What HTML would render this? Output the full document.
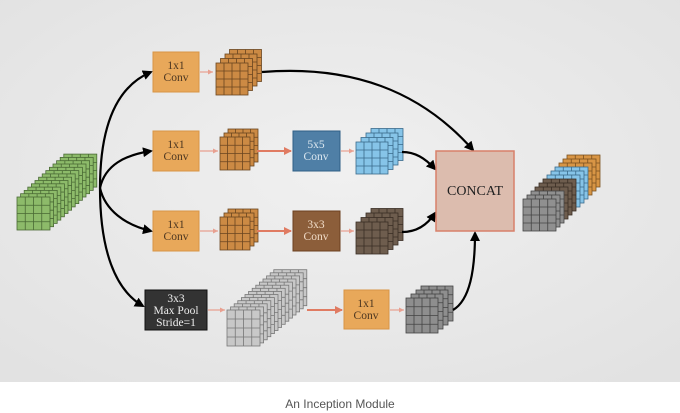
<!DOCTYPE html>
<html><head><meta charset="utf-8"><style>
html,body{margin:0;padding:0;width:680px;height:413px;overflow:hidden;background:#fff}
svg{display:block}
</style></head><body>
<svg id="s" width="680" height="413" xmlns="http://www.w3.org/2000/svg" font-family="Liberation Serif, serif">
<defs>
<radialGradient id="bg" cx="50%" cy="45%" r="70%"><stop offset="0" stop-color="#f0f0f0"/><stop offset="1" stop-color="#e2e2e2"/></radialGradient>
<marker id="ab" markerWidth="10" markerHeight="10" refX="8" refY="5" orient="auto" markerUnits="userSpaceOnUse"><path d="M0,0 L10,5 L0,10 Z" fill="#000"/></marker>
<marker id="ar" markerWidth="8" markerHeight="8" refX="7" refY="4" orient="auto" markerUnits="userSpaceOnUse"><path d="M0,0 L8,4 L0,8 Z" fill="#e07b62"/></marker>
<marker id="ar2" markerWidth="5" markerHeight="5" refX="5" refY="2.5" orient="auto" markerUnits="userSpaceOnUse"><path d="M0,0 L5,2.5 L0,5 Z" fill="#e8a090"/></marker>
</defs>
<rect x="0" y="0" width="680" height="382" fill="url(#bg)"/>
<g id="stacks"></g>
<g fill="none" stroke="#000" stroke-width="2.2">
<path d="M100,188 C100,120 120,85 151,72" marker-end="url(#ab)"/>
<path d="M100,188 C105,165 125,155 151,151" marker-end="url(#ab)"/>
<path d="M100,188 C105,210 125,225 151,231" marker-end="url(#ab)"/>
<path d="M100,188 C100,250 115,290 143,306" marker-end="url(#ab)"/>
<path d="M262,72 C350,65 420,90 473,150" marker-end="url(#ab)"/>
<path d="M402,152 C415,152 425,158 435,169" marker-end="url(#ab)"/>
<path d="M402,232 C418,232 428,224 435,213" marker-end="url(#ab)"/>
<path d="M453,310 C470,300 475,270 475,233" marker-end="url(#ab)"/>
</g>
<g stroke="#e8a090" stroke-width="1.2" fill="none">
<path d="M200,72 L213,72" marker-end="url(#ar2)"/>
<path d="M200,151 L218,151" marker-end="url(#ar2)"/>
<path d="M200,231 L218,231" marker-end="url(#ar2)"/>
<path d="M341,151 L354,151" marker-end="url(#ar2)"/>
<path d="M341,231 L354,231" marker-end="url(#ar2)"/>
<path d="M208,310 L225,310" marker-end="url(#ar2)"/>
<path d="M390,310 L404,310" marker-end="url(#ar2)"/>
</g>
<g stroke="#e07b62" stroke-width="2" fill="none">
<path d="M257,151 L291,151" marker-end="url(#ar)"/>
<path d="M257,231 L291,231" marker-end="url(#ar)"/>
<path d="M307,310 L342,310" marker-end="url(#ar)"/>
</g>
<g font-size="11.5" text-anchor="middle">
<rect x="153" y="52" width="46" height="40" fill="#e8a85a" stroke="#d89545"/>
<text x="176" y="69" fill="#4a3520">1x1</text><text x="176" y="81" fill="#4a3520">Conv</text>
<rect x="153" y="131" width="46" height="40" fill="#e8a85a" stroke="#d89545"/>
<text x="176" y="148" fill="#4a3520">1x1</text><text x="176" y="160" fill="#4a3520">Conv</text>
<rect x="153" y="211" width="46" height="40" fill="#e8a85a" stroke="#d89545"/>
<text x="176" y="228" fill="#4a3520">1x1</text><text x="176" y="240" fill="#4a3520">Conv</text>
<rect x="293" y="131" width="47" height="40" fill="#4f7fa6" stroke="#2f5f86"/>
<text x="316" y="148" fill="#dde8f0">5x5</text><text x="316" y="160" fill="#dde8f0">Conv</text>
<rect x="293" y="211" width="47" height="40" fill="#8c5e3a" stroke="#6c4020"/>
<text x="316" y="228" fill="#f0dcc8">3x3</text><text x="316" y="240" fill="#f0dcc8">Conv</text>
<rect x="145" y="290" width="62" height="40" fill="#333" stroke="#111"/>
<text x="176" y="302" fill="#eee">3x3</text><text x="176" y="314" fill="#eee">Max Pool</text><text x="176" y="326" fill="#eee">Stride=1</text>
<rect x="344" y="290" width="45" height="39" fill="#e8a85a" stroke="#d89545"/>
<text x="366" y="307" fill="#4a3520">1x1</text><text x="366" y="319" fill="#4a3520">Conv</text>
<rect x="436" y="151" width="78" height="80" fill="#dcbcae" stroke="#d8806a" stroke-width="1.5"/>
<text x="475" y="195" font-size="14" fill="#222">CONCAT</text>
</g>
<text x="340" y="408" font-family="Liberation Sans, sans-serif" font-size="12" fill="#555" text-anchor="middle">An Inception Module</text>
</svg>
<script>
var g=document.getElementById('stacks'),ns='http://www.w3.org/2000/svg';
function face(x,y,w,h,f,s){var r=document.createElementNS(ns,'rect');r.setAttribute('x',x);r.setAttribute('y',y);r.setAttribute('width',w);r.setAttribute('height',h);r.setAttribute('fill',f);r.setAttribute('stroke',s);r.setAttribute('stroke-width','0.8');g.appendChild(r);
for(var i=1;i<4;i++){var l=document.createElementNS(ns,'path');l.setAttribute('d','M'+(x+w*i/4)+','+y+'V'+(y+h)+'M'+x+','+(y+h*i/4)+'H'+(x+w));l.setAttribute('stroke',s);l.setAttribute('stroke-width','0.8');g.appendChild(l);}}
function stack(x,y,w,h,n,dx,dy,cols,s){for(var i=n-1;i>=0;i--){var c=typeof cols=='string'?cols:cols[i];face(x+i*dx,y-i*dy,w,h,c,s);}}
stack(17,197,33,33,14,3.6,3.3,'#8dbb6a','#4a6a35');
stack(216,63,32,32,4,4.5,4.5,'#cc8a44','#6a4520');
stack(220,137,30,33,3,4,4,'#cc8a44','#6a4520');
stack(220,217,30,33,3,4,4,'#cc8a44','#6a4520');
stack(356,142,32,32,4,5,4.5,'#86c4e8','#3a6a8a');
stack(356,222,32,32,4,5,4.5,'#6e5d4e','#3a2e25');
stack(406,298,32,35,4,5,4,'#8e8e8e','#444');
stack(227,310,33,36,14,3.6,3.1,'#c8c8c8','#777');
var oc=['#909090','#909090','#909090','#6e5d4e','#6e5d4e','#6e5d4e','#86c4e8','#86c4e8','#86c4e8','#d89545','#d89545','#d89545'];
var os=['#444','#444','#444','#3a2e25','#3a2e25','#3a2e25','#3a6a8a','#3a6a8a','#3a6a8a','#7a5020','#7a5020','#7a5020'];
for(var i=11;i>=0;i--)face(523+i*4,199-i*4,33,32,oc[i],os[i]);
</script>
</body></html>
